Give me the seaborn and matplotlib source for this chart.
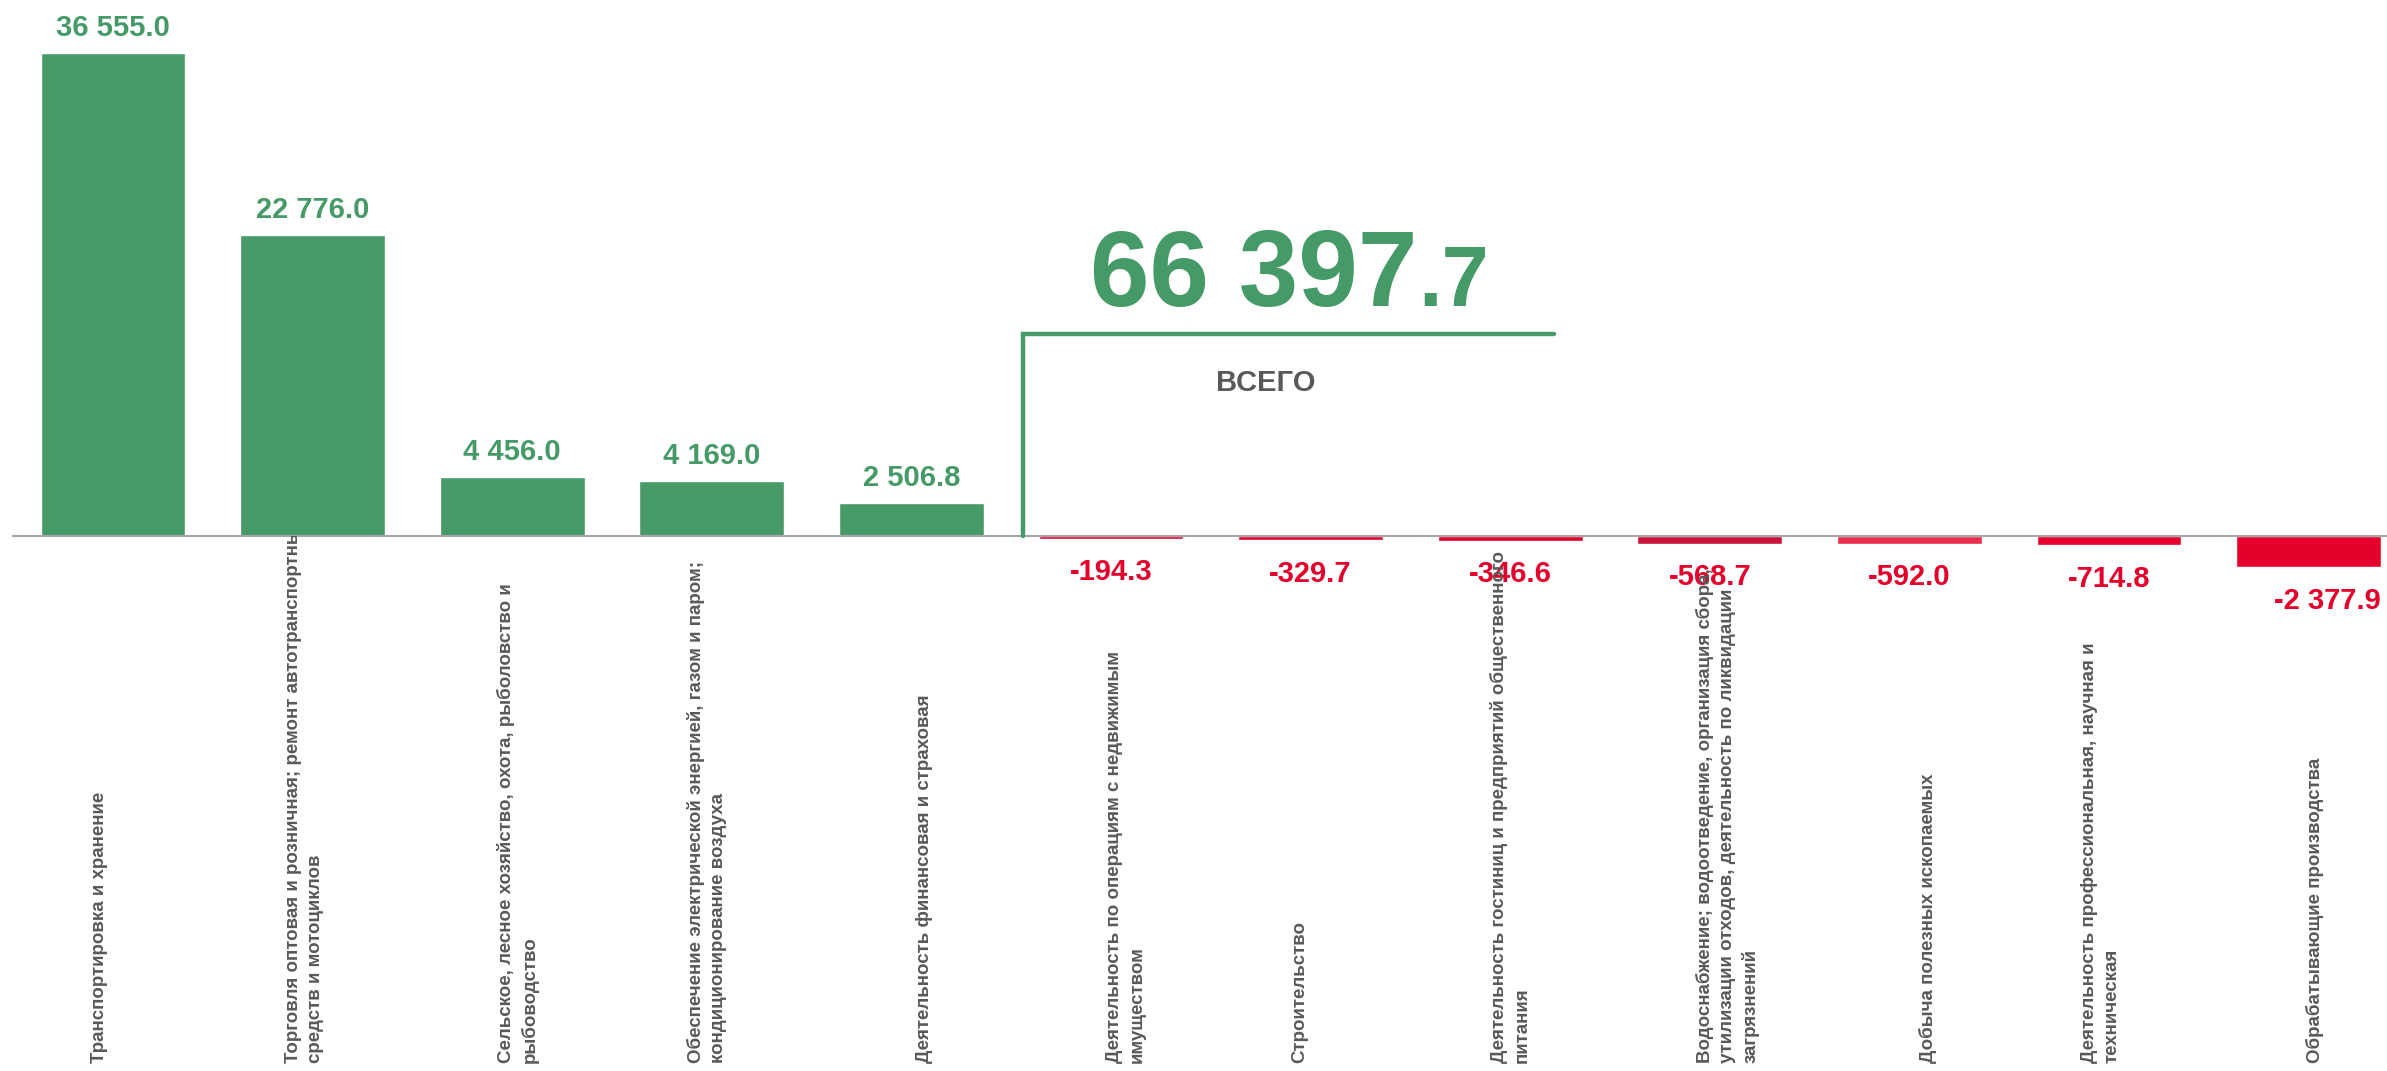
import numpy as np
import pandas as pd
import seaborn as sns
import matplotlib.pyplot as plt
from matplotlib.transforms import Bbox, TransformedBbox

sectors = [
    'Транспортировка и хранение',
    'Торговля оптовая и розничная; ремонт автотранспортных\nсредств и мотоциклов',
    'Сельское, лесное хозяйство, охота, рыболовство и\nрыбоводство',
    'Обеспечение электрической энергией, газом и паром;\nкондиционирование воздуха',
    'Деятельность финансовая и страховая',
    'Деятельность по операциям с недвижимым\nимуществом',
    'Строительство',
    'Деятельность гостиниц и предприятий общественного\nпитания',
    'Водоснабжение; водоотведение, организация сбора,\nутилизации отходов, деятельность по ликвидации\nзагрязнений',
    'Добыча полезных ископаемых',
    'Деятельность профессиональная, научная и\nтехническая',
    'Обрабатывающие производства',
]
values = [36555.0, 22776.0, 4456.0, 4169.0, 2506.8,
          -194.3, -329.7, -346.6, -568.7, -592.0, -714.8, -2377.9]
total = 66397.7
total_label = 'ВСЕГО'

# horizontal nudge of each category label, px (layout only)
label_shift_px = [-13, -8, 6, -5, 13, 15, -11, 0, 18, 19, -8, 6]

GREEN = '#469A67'
RED = '#E4002B'
GREY = '#595959'

W, H = 2387, 1071
px_per_unit = 0.01322   # vertical scale of the reference
base_px = 536           # baseline, px from top
slot_px = 199.6         # distance between bars
first_px = 113          # centre of first bar


def fmt(v):
    return '{:,.1f}'.format(v).replace(',', ' ')


df = pd.DataFrame({'sector': sectors, 'value': values})
colors = [GREEN if v > 0 else RED for v in values]
colors[8] = '#C8143A'
colors[9] = '#EA2E4E'

sns.set_theme(style='white')
plt.rcParams['font.family'] = ['Liberation Sans', 'DejaVu Sans']

fig = plt.figure(figsize=(W / 100, H / 100), dpi=100)
ax = fig.add_axes([0, 0, 1, 1])

sns.barplot(data=df, x='sector', y='value', hue='sector', palette=colors,
            legend=False, width=0.726, saturation=1, ax=ax)

ax.set_xlim(-first_px / slot_px, (W - first_px) / slot_px)
ax.set_ylim(-(H - base_px) / px_per_unit, base_px / px_per_unit)
ax.axis('off')
ax.axhline(0, xmin=13 / W, xmax=1, color='#A6A6A6', lw=1.5, zorder=3)

# value labels
for i, v in enumerate(values):
    if v > 0:
        ax.annotate(fmt(v), (i, v), xytext=(0, 12), textcoords='offset points',
                    ha='center', va='baseline', fontsize=21, fontweight='bold',
                    color=GREEN)
    else:
        ha, dx = ('center', 0) if i < len(values) - 1 else ('right', 52)
        ax.annotate(fmt(v), (i, v), xytext=(dx, -14), textcoords='offset points',
                    ha=ha, va='top', fontsize=21, fontweight='bold', color=RED)

# category labels, clipped at the baseline
clip = TransformedBbox(Bbox([[-5, ax.get_ylim()[0]], [50, 0]]), ax.transData)
for i, s in enumerate(sectors):
    t = ax.text(i + label_shift_px[i] / slot_px, 8 / H, s,
                transform=ax.get_xaxis_transform(),
                rotation=90, ha='center', va='bottom', multialignment='left',
                fontsize=13.5, fontweight='bold', color=GREY, linespacing=1.4)
    t.set_clip_on(True)
    t.set_clip_box(clip)

# total bracket
bx0 = 4.56
bx1 = 7.22
by = (base_px - 334) / px_per_unit
ax.plot([bx0, bx0, bx1], [0, by, by], color=GREEN, lw=3.2,
        solid_joinstyle='miter', zorder=4)

whole, frac = fmt(total).split('.')
split_x = (1418 - first_px) / slot_px
top_y = (base_px - 306) / px_per_unit
ax.text(split_x, top_y, whole, ha='right', va='baseline', fontsize=77,
        fontweight='bold', color=GREEN)
ax.text(split_x, top_y, '.' + frac, ha='left', va='baseline', fontsize=61,
        fontweight='bold', color=GREEN)
ax.text((1266 - first_px) / slot_px, (base_px - 391) / px_per_unit, total_label,
        ha='center', va='baseline', fontsize=21, fontweight='bold', color=GREY)

fig.savefig('out.png', dpi=100, facecolor='white')
